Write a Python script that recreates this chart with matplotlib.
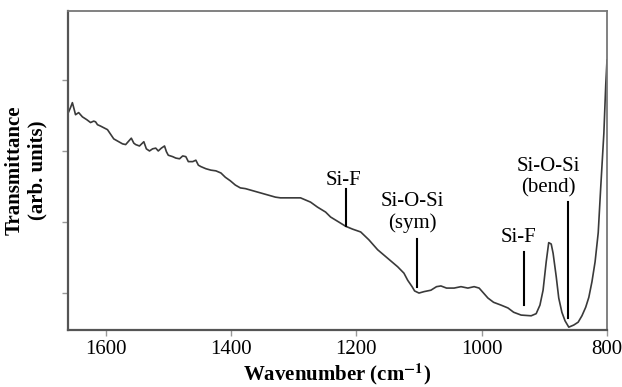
import matplotlib
matplotlib.use("Agg")
import matplotlib.pyplot as plt

plt.rcParams['font.family'] = ['Liberation Serif', 'DejaVu Serif']
plt.rcParams['mathtext.fontset'] = 'stix'

wavenumber = [1659, 1656, 1653, 1650, 1648, 1643, 1637, 1630, 1624, 1619, 1616, 1613, 1608,
              1597, 1587, 1579, 1573, 1568, 1563, 1559, 1555, 1552, 1546, 1539, 1535, 1530,
              1525, 1520, 1516, 1511, 1506, 1503, 1500, 1493, 1488, 1482, 1477, 1472, 1468,
              1461, 1456, 1452, 1448, 1440, 1432, 1424, 1416, 1409, 1401, 1393, 1385, 1377,
              1369, 1353, 1341, 1329, 1321, 1289, 1273, 1262, 1249, 1241, 1228, 1217, 1206,
              1193, 1180, 1166, 1150, 1134, 1124, 1118, 1111, 1107, 1100, 1092, 1081, 1072,
              1065, 1056, 1044, 1033, 1022, 1012, 1004, 1000, 990, 981, 969, 958, 949, 937,
              921, 913, 907, 902, 897, 893, 889, 886, 881, 877, 872, 867, 861, 853, 846, 840,
              834, 829, 824, 819, 814, 810, 805, 802, 800]
transmittance = [3.55, 3.61, 3.68, 3.58, 3.51, 3.54, 3.48, 3.44, 3.40, 3.42, 3.41, 3.37, 3.35,
                 3.30, 3.17, 3.13, 3.10, 3.09, 3.14, 3.18, 3.11, 3.09, 3.07, 3.13, 3.03, 3.00,
                 3.03, 3.04, 3.00, 3.04, 3.07, 2.99, 2.94, 2.92, 2.90, 2.89, 2.93, 2.92, 2.85,
                 2.85, 2.87, 2.80, 2.78, 2.75, 2.73, 2.72, 2.69, 2.63, 2.58, 2.52, 2.48, 2.47,
                 2.45, 2.41, 2.38, 2.35, 2.34, 2.34, 2.28, 2.21, 2.14, 2.07, 2.00, 1.94, 1.90,
                 1.86, 1.75, 1.61, 1.49, 1.37, 1.28, 1.18, 1.09, 1.03, 1.00, 1.02, 1.04, 1.09,
                 1.10, 1.07, 1.07, 1.09, 1.07, 1.09, 1.07, 1.03, 0.93, 0.87, 0.83, 0.79, 0.73, 0.69,
                 0.68, 0.71, 0.83, 1.04, 1.44, 1.71, 1.69, 1.56, 1.23, 0.93, 0.73, 0.61, 0.52, 0.55,
                 0.59, 0.68, 0.80, 0.94, 1.16, 1.44, 1.85, 2.49, 3.25, 3.93, 4.28]

x_ticks = [1600, 1400, 1200, 1000, 800]
y_ticks = [1, 2, 3, 4]

labels = ["Si-F", "Si-O-Si\n(sym)", "Si-F", "Si-O-Si\n(bend)"]
label_x = [1220, 1110, 942, 894]
label_y = [2.59, 2.13, 1.78, 2.63]
line_x = [1217, 1103, 933, 862]
line_top = [2.47, 1.76, 1.58, 2.28]
line_bottom = [1.94, 1.09, 0.83, 0.65]

fig = plt.figure(figsize=(6.22, 3.87), dpi=100)
ax = fig.add_axes([68/622, 1-330/387, (607-68)/622, (330-11)/387])

ax.plot(wavenumber, transmittance, color='#3a3a3a', lw=1.2)

for t, tx, ty in zip(labels, label_x, label_y):
    ax.text(tx, ty, t, ha='center', va='center', fontsize=15, linespacing=1.15)
for lx, lt, lb in zip(line_x, line_top, line_bottom):
    ax.plot([lx, lx], [lb, lt], color='black', lw=1.5)

ax.set_xlim(1660, 800)
ax.set_ylim(0.48, 4.97)
ax.set_xticks(x_ticks)
ax.set_xticklabels([str(v) for v in x_ticks], fontsize=15)
ax.set_yticks(y_ticks)
ax.set_yticklabels([])
ax.tick_params(axis='both', direction='out', length=4, width=1, color='#999999', pad=3)

for s in ['left', 'bottom']:
    ax.spines[s].set_color('#555555')
    ax.spines[s].set_linewidth(1.6)
for s in ['top', 'right']:
    ax.spines[s].set_color('#777777')
    ax.spines[s].set_linewidth(1.3)

ax.set_xlabel(r"Wavenumber (cm$^{\mathbf{-1}}$)", fontsize=15, fontweight='bold', labelpad=2)
ax.set_ylabel("Transmittance\n(arb. units)", fontsize=15, fontweight='bold', linespacing=1.2, labelpad=8)

fig.savefig("out.png", dpi=100)
